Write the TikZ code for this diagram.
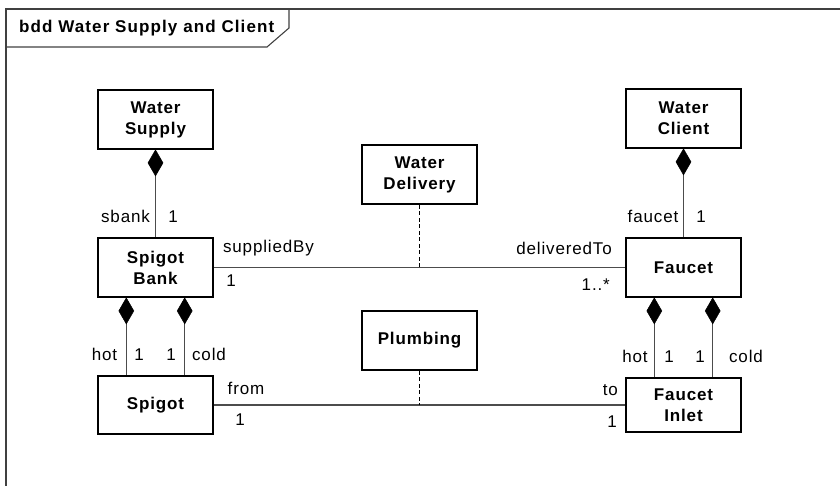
\documentclass[tikz,border=0pt]{standalone}
\usepackage{fontspec}
\setmainfont{Liberation Sans}[LetterSpace=5]
\usetikzlibrary{calc}
\begin{document}
\begin{tikzpicture}[x=1bp,y=-1bp,
  every node/.style={font=\fontsize{17bp}{21bp}\selectfont},
  block/.style={draw=black, line width=1.8bp, fill=white, minimum width=115bp, minimum height=59bp,
    align=center, inner sep=0pt, font=\fontsize{17bp}{21bp}\selectfont\bfseries},
  conn/.style={draw=black!70, line width=1.1bp},
  dashconn/.style={draw=black, line width=1.1bp, dash pattern=on 4bp off 2.5bp},
  framestyle/.style={draw=black!75, line width=1.1bp},
  lbl/.style={anchor=base, inner sep=0pt},
  comp/.style={fill=black, draw=black, line width=0.5bp}
]
\useasboundingbox (0,0) rectangle (840,486);

% frame
\draw[framestyle] (6,486) -- (6,9) -- (840,9);
\draw[framestyle] (6,47) -- (267,47) -- (289,28) -- (289,9);
\node[anchor=base west, inner sep=0pt, font=\fontsize{17bp}{21bp}\selectfont\bfseries\addfontfeature{LetterSpace=6.5}] (title) at (19,33) {bdd Water Supply and Client};

% blocks
\node[block] (ws) at (155.5,119.5) {Water\\Supply};
\node[block] (wc) at (683.5,118.5) {Water\\Client};
\node[block] (wd) at (419.5,174.5) {Water\\Delivery};
\node[block] (sb) at (155.5,267.5) {Spigot\\Bank};
\node[block] (fa) at (683.5,267.5) {Faucet};
\node[block] (pl) at (419.5,340.5) {Plumbing};
\node[block, minimum height=58bp] (sp) at (155.5,405) {Spigot};
\node[block, minimum height=54bp] (fi) at (683.5,405) {Faucet\\Inlet};

% composition coordinates
\coordinate (sbh) at ($(sb.south west)!0.25!(sb.south east)$);
\coordinate (sbc) at ($(sb.south west)!0.75!(sb.south east)$);
\coordinate (fah) at ($(fa.south west)!0.25!(fa.south east)$);
\coordinate (fac) at ($(fa.south west)!0.75!(fa.south east)$);

% composition lines
\draw[conn] (ws.south) -- (sb.north);
\draw[conn] (wc.south) -- (fa.north);
\draw[conn] (sbh) -- (sbh |- sp.north);
\draw[conn] (sbc) -- (sbc |- sp.north);
\draw[conn] (fah) -- (fah |- fi.north);
\draw[conn] (fac) -- (fac |- fi.north);

% diamonds
\foreach \p in {ws.south, wc.south, sbh, sbc, fah, fac} {
  \path[comp] (\p) -- ++(7.5,13) -- ++(-7.5,13) -- ++(-7.5,-13) -- cycle;
}

% associations
\draw[conn] (sb.east) -- (fa.west);
\draw[conn] (sp.east) -- (fi.west);
\draw[dashconn] (wd.south) -- (wd.south |- sb.east);
\draw[dashconn] (pl.south) -- (pl.south |- sp.east);

% labels
\node[lbl] (l1) at (125.5,223) {sbank};
\node[lbl] (l2) at (173,223) {1};
\node[lbl] (l3) at (653,223) {faucet};
\node[lbl] (l4) at (701,223) {1};
\node[lbl] (l5) at (268.5,253) {suppliedBy};
\node[lbl] (l6) at (231,287) {1};
\node[lbl, anchor=base east] (l7) at (612,255) {deliveredTo};
\node[lbl, anchor=base east] (l8) at (610,291) {1..*};
\node[lbl] (l9) at (104.5,360) {hot};
\node[lbl] (l10) at (139,360) {1};
\node[lbl] (l11) at (171,360) {1};
\node[lbl] (l12) at (209,360) {cold};
\node[lbl] (l13) at (635,362) {hot};
\node[lbl] (l14) at (669,362) {1};
\node[lbl] (l15) at (700,362) {1};
\node[lbl] (l16) at (746,362) {cold};
\node[lbl] (l17) at (246,394) {from};
\node[lbl] (l18) at (240,425) {1};
\node[lbl, anchor=base east] (l19) at (618,395) {to};
\node[lbl] (l20) at (612,427) {1};
\end{tikzpicture}
\end{document}
